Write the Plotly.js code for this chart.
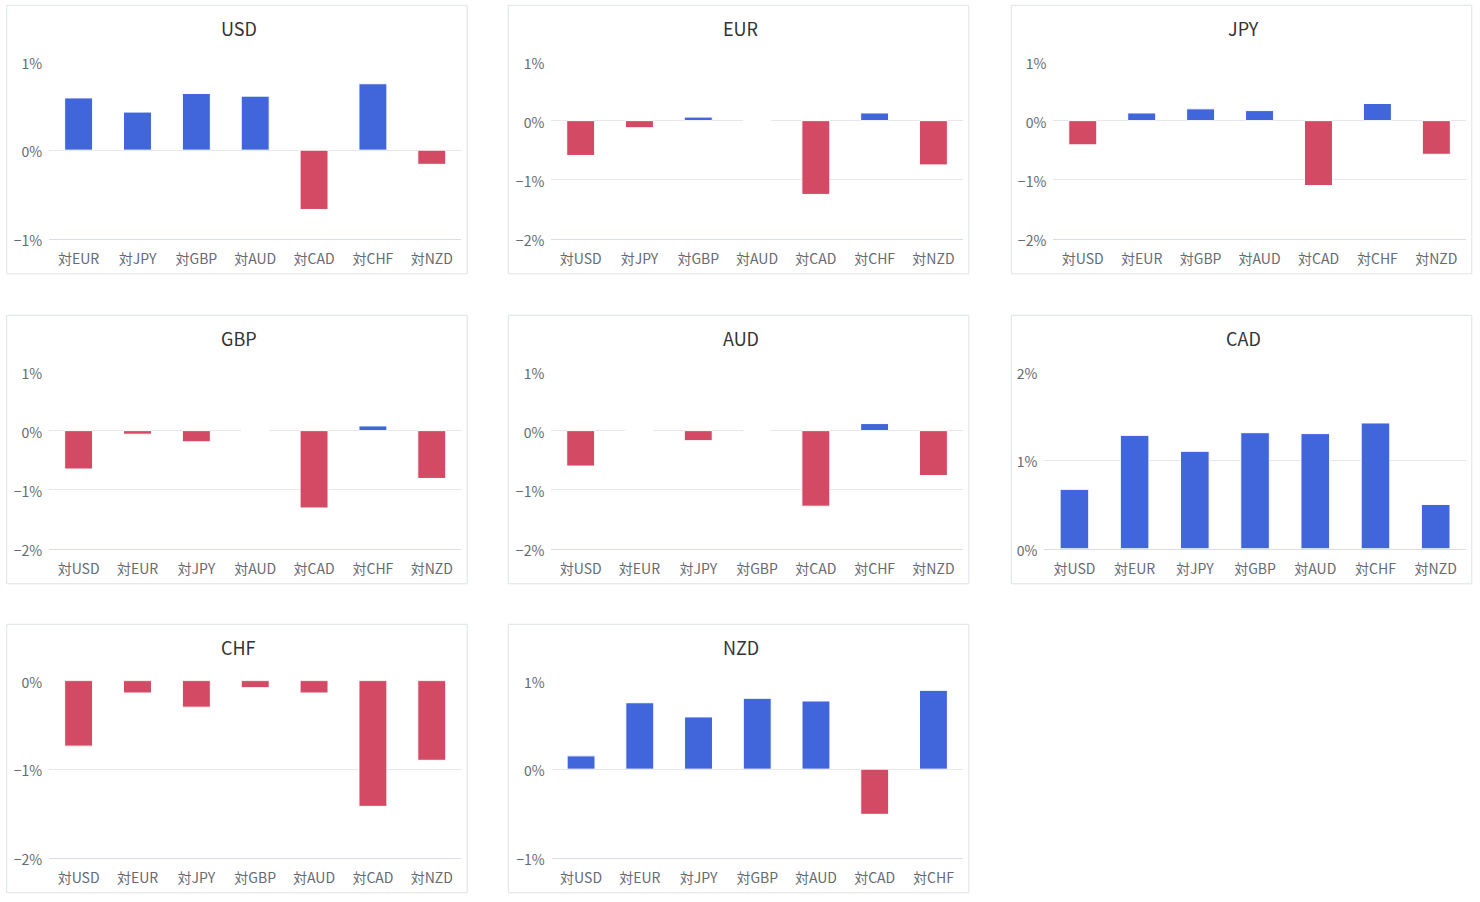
<!DOCTYPE html>
<html>
<head>
<meta charset="utf-8">
<script src="https://cdn.plot.ly/plotly-3.0.1.min.js"></script>
<style>
  html, body { margin: 0; padding: 0; background: #fff; }
  #chart { width: 1480px; height: 902px; }
</style>
</head>
<body>
<div id="chart"></div>
<script>
// ---- Data ----
const panelNames = ['USD', 'EUR', 'JPY', 'GBP', 'AUD', 'CAD', 'CHF', 'NZD'];

const usdCats = ['対EUR', '対JPY', '対GBP', '対AUD', '対CAD', '対CHF', '対NZD'];
const usdVals = [0.59, 0.43, 0.64, 0.61, -0.67, 0.75, -0.16];

const eurCats = ['対USD', '対JPY', '対GBP', '対AUD', '対CAD', '対CHF', '対NZD'];
const eurVals = [-0.59, -0.12, 0.06, 0, -1.25, 0.13, -0.75];

const jpyCats = ['対USD', '対EUR', '対GBP', '対AUD', '対CAD', '対CHF', '対NZD'];
const jpyVals = [-0.41, 0.13, 0.20, 0.17, -1.10, 0.29, -0.57];

const gbpCats = ['対USD', '対EUR', '対JPY', '対AUD', '対CAD', '対CHF', '対NZD'];
const gbpVals = [-0.65, -0.06, -0.19, 0, -1.31, 0.08, -0.81];

const audCats = ['対USD', '対EUR', '対JPY', '対GBP', '対CAD', '対CHF', '対NZD'];
const audVals = [-0.60, 0, -0.17, 0, -1.28, 0.12, -0.76];

const cadCats = ['対USD', '対EUR', '対JPY', '対GBP', '対AUD', '対CHF', '対NZD'];
const cadVals = [0.67, 1.28, 1.10, 1.31, 1.30, 1.42, 0.50];

const chfCats = ['対USD', '対EUR', '対JPY', '対GBP', '対AUD', '対CAD', '対NZD'];
const chfVals = [-0.74, -0.14, -0.30, -0.08, -0.14, -1.42, -0.90];

const nzdCats = ['対USD', '対EUR', '対JPY', '対GBP', '対AUD', '対CAD', '対CHF'];
const nzdVals = [0.15, 0.75, 0.59, 0.80, 0.77, -0.51, 0.89];

const panelCats = [usdCats, eurCats, jpyCats, gbpCats, audCats, cadCats, chfCats, nzdCats];
const panelVals = [usdVals, eurVals, jpyVals, gbpVals, audVals, cadVals, chfVals, nzdVals];

// ---- Styling / layout ----
const W = 1480, H = 902;
const UP = '#4166DB', DOWN = '#D34A64';
const FONT = '"Noto Sans CJK JP", "Noto Sans", sans-serif';
const yRanges = [[-1, 1], [-2, 1], [-2, 1], [-2, 1], [-2, 1], [0, 2], [-2, 0], [-1, 1]];
const leftPads = [42.5, 43, 42, 42.5, 43, 33, 42.5, 43.4];
const colX = [6.7, 508.3, 1011.3];
const rowY = [5.3, 315.3, 624.3];
const PW = 460.5, PH = 268.5;

const traces = [];
const layout = {
  width: W, height: H,
  margin: { l: 0, r: 0, t: 0, b: 0 },
  paper_bgcolor: '#fff',
  plot_bgcolor: '#fff',
  showlegend: false,
  font: { family: FONT, color: '#6E7079', size: 14 },
  shapes: [],
  annotations: [],
  bargap: 0.525
};

panelNames.forEach((name, i) => {
  const c = i % 3, r = Math.floor(i / 3);
  const px = colX[c], py = rowY[r];
  const x0 = px + leftPads[i], x1 = px + 454.5;
  const yTop = py + 56.3, yBot = py + 233.4;
  const idx = i === 0 ? '' : String(i + 1);

  traces.push({
    type: 'bar',
    x: panelCats[i],
    y: panelVals[i],
    xaxis: 'x' + idx,
    yaxis: 'y' + idx,
    marker: {
      color: panelVals[i].map(v => v >= 0 ? UP : DOWN),
      line: { color: '#ffffff', width: 1 }
    },
    hoverinfo: 'x+y'
  });

  layout['xaxis' + idx] = {
    domain: [x0 / W, x1 / W],
    anchor: 'y' + idx,
    type: 'category',
    showgrid: false,
    showline: true,
    linecolor: '#D8DCEE',
    linewidth: 1,
    ticks: '',
    ticklabelstandoff: 7,
    tickfont: { family: FONT, size: 14, color: '#666a73' },
    fixedrange: true
  };
  layout['yaxis' + idx] = {
    domain: [1 - yBot / H, 1 - yTop / H],
    anchor: 'x' + idx,
    range: yRanges[i],
    dtick: 1,
    tick0: 0,
    ticksuffix: '%',
    showgrid: true,
    gridcolor: '#E6E7EA',
    gridwidth: 1,
    zeroline: false,
    showline: false,
    ticks: '',
    ticklabelstandoff: 6,
    ticklabelshift: 2,
    tickfont: { family: FONT, size: 14, color: '#666a73' },
    fixedrange: true
  };

  layout.shapes.push({
    type: 'rect', xref: 'paper', yref: 'paper', layer: 'below',
    x0: px / W, x1: (px + PW) / W,
    y0: 1 - (py + PH) / H, y1: 1 - py / H,
    line: { color: '#DDE3E6', width: 1 },
    fillcolor: 'rgba(0,0,0,0)'
  });

  layout.annotations.push({
    xref: 'paper', yref: 'paper',
    x: (px + PW / 2 + 2) / W, y: 1 - (py + 22.2) / H,
    xanchor: 'center', yanchor: 'middle',
    text: name,
    showarrow: false,
    font: { family: FONT, size: 18, color: '#333333' }
  });
});

Plotly.newPlot('chart', traces, layout, { displayModeBar: false, staticPlot: false });
</script>
</body>
</html>
